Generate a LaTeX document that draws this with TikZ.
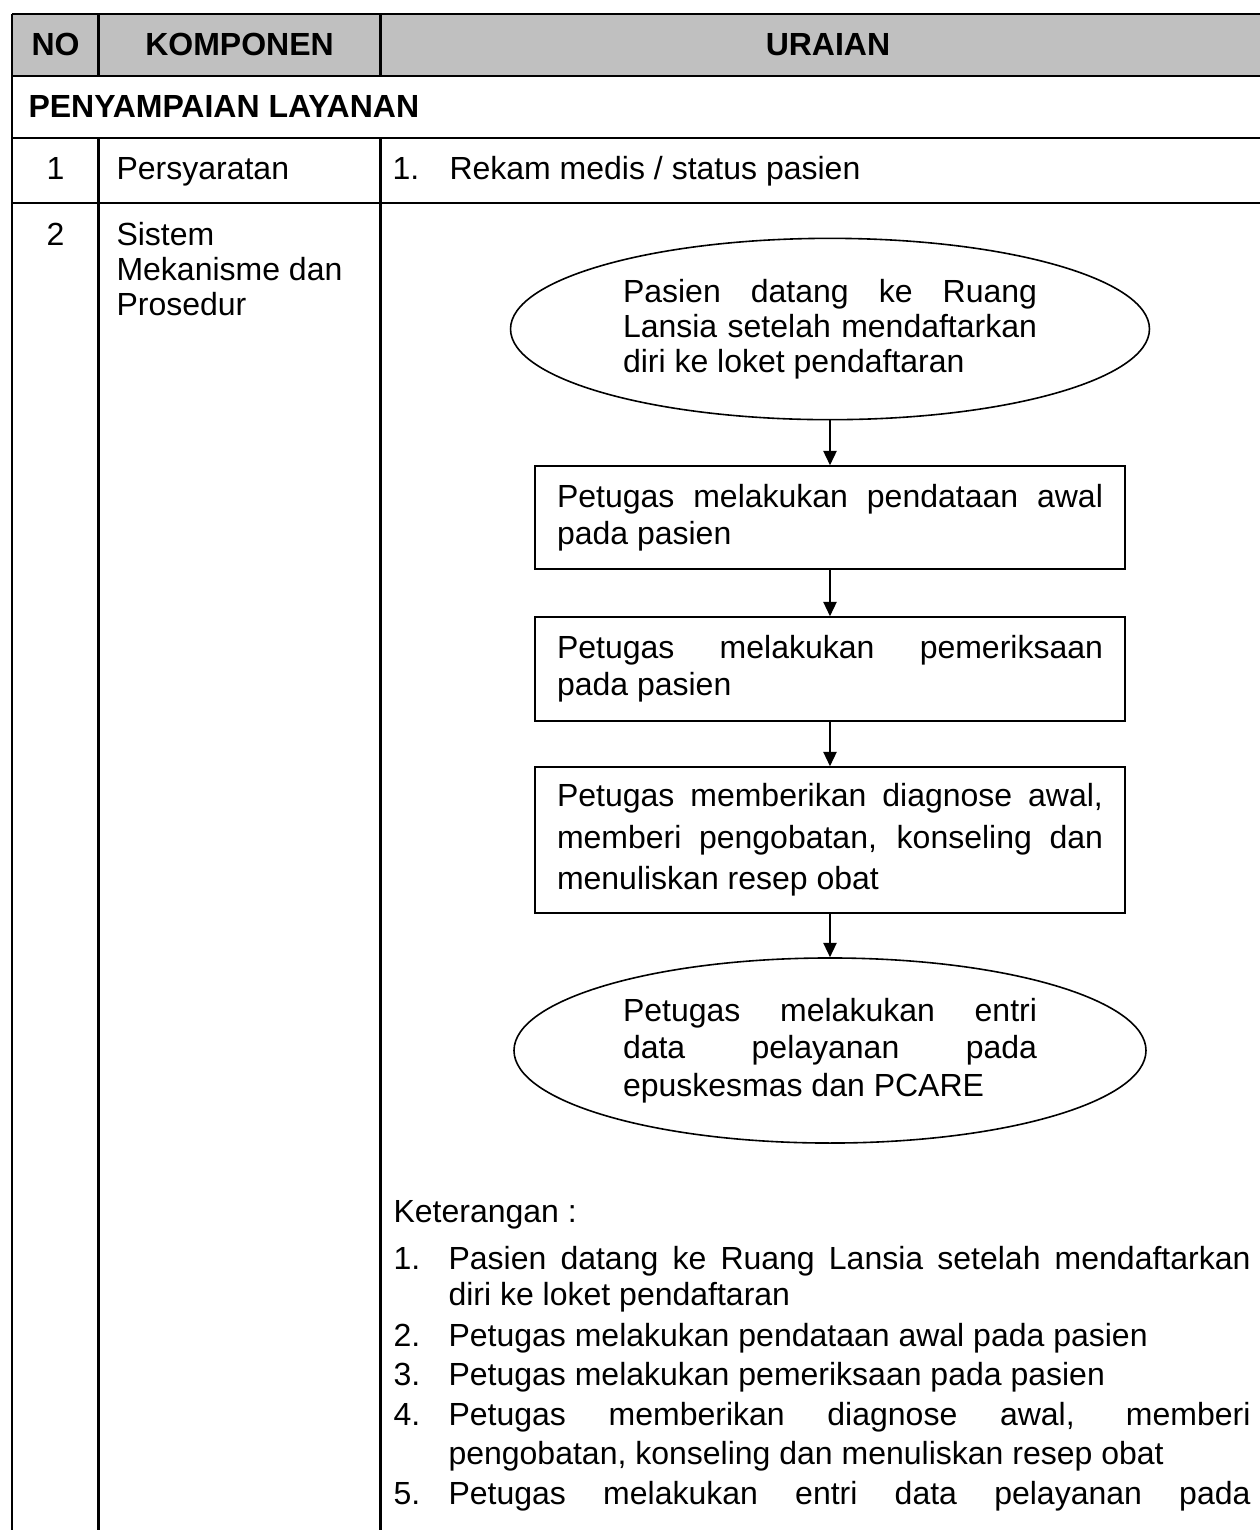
\documentclass[tikz,border=0pt]{standalone}
\usepackage{fontspec}
\setmainfont{Liberation Sans}
\usetikzlibrary{shapes.geometric,arrows.meta}
\definecolor{headgray}{RGB}{192,192,192}
% a line of text stretched to a given width (justified line)
\newcommand{\fitline}[2]{\makebox[#1][s]{#2}}
\begin{document}
\begin{tikzpicture}[x=0.375pt,y=-0.375pt,
  grid/.style={line width=0.95pt},
  flow/.style={draw, line width=0.6pt, inner sep=0pt, font=\fontsize{12}{13.8}\selectfont},
  oval/.style={flow, ellipse},
  stepbox/.style={flow, rectangle},
  link/.style={line width=0.6pt, -{Triangle[length=5.4pt,width=5pt]}},
  txt/.style={anchor=base west, inner sep=0pt, font=\fontsize{12}{14}\selectfont},
  ctxt/.style={anchor=base, inner sep=0pt, font=\fontsize{12}{14}\selectfont},
  hdr/.style={anchor=base, inner sep=0pt, font=\fontsize{12}{14}\selectfont\bfseries},
]
\useasboundingbox (0,0) rectangle (1260,1530);

% table header band
\fill[headgray] (12,14) rectangle (1290,76);

% table rules
\draw[grid] (12,14) -- (1290,14);
\draw[grid] (12,76) -- (1290,76);
\draw[grid] (12,138) -- (1290,138);
\draw[grid] (12,203) -- (1290,203);
\draw[grid] (12,14) -- (12,1540);
\draw[grid] (98.5,14) -- (98.5,76);
\draw[grid] (98.5,138) -- (98.5,1540);
\draw[grid] (380.5,14) -- (380.5,76);
\draw[grid] (380.5,138) -- (380.5,1540);

% header
\node[hdr] (hno) at (55.5,55) {NO};
\node[hdr] (hkomp) at (239.5,55) {KOMPONEN};
\node[hdr] (hur) at (828,55) {URAIAN};

% section row
\node[txt, font=\fontsize{12}{14}\selectfont\bfseries] (sect) at (28,117) {PENYAMPAIAN LAYANAN};

% row 1
\node[ctxt] (n1) at (55.5,179) {1};
\node[txt] (k1) at (116,179) {Persyaratan};
\node[txt] (u1n) at (392,179) {1.};
\node[txt] (u1) at (449,179) {Rekam medis / status pasien};

% row 2
\node[ctxt] (n2) at (55.5,245) {2};
\node[txt] (k2a) at (116,245) {Sistem};
\node[txt] (k2b) at (116,280) {Mekanisme dan};
\node[txt] (k2c) at (116,315.5) {Prosedur};

% flowchart
\node[oval, minimum width=239.6pt, minimum height=68pt,
      font=\fontsize{12}{13.2}\selectfont] (e1) at (830,329)
  {\parbox{155.25pt}{\fitline{155.25pt}{Pasien datang ke Ruang}\\
   \fitline{155.25pt}{Lansia setelah mendaftarkan}\\
   diri ke loket pendaftaran}};
\node[stepbox, minimum width=221.25pt, minimum height=38.6pt] (b1) at (830,517.5)
  {\parbox{204.75pt}{\fitline{204.75pt}{Petugas melakukan pendataan awal}\\
   pada pasien}};
\node[stepbox, minimum width=221.25pt, minimum height=39pt] (b2) at (830,669)
  {\parbox{204.75pt}{\fitline{204.75pt}{Petugas melakukan pemeriksaan}\\
   pada pasien}};
\node[stepbox, minimum width=221.25pt, minimum height=54.75pt,
      font=\fontsize{12}{15.5}\selectfont] (b3) at (830,840)
  {\raisebox{-1.5pt}{\parbox{204.75pt}{\fitline{204.75pt}{Petugas memberikan diagnose awal,}\\
   \fitline{204.75pt}{memberi pengobatan, konseling dan}\\
   menuliskan resep obat}}};
\node[oval, minimum width=237pt, minimum height=69.4pt,
      font=\fontsize{12}{14}\selectfont] (e2) at (830,1050.5)
  {\raisebox{-1.3pt}{\parbox{155.25pt}{\fitline{155.25pt}{Petugas melakukan entri}\\
   \fitline{155.25pt}{data pelayanan pada}\\
   epuskesmas dan PCARE}}};

\draw[link] (e1.south) -- (b1.north);
\draw[link] (b1.south) -- (b2.north);
\draw[link] (b2.south) -- (b3.north);
\draw[link] (b3.south) -- (e2.north);

% notes under the flowchart
\node[txt] (ket) at (393,1222) {Keterangan :};
\node[txt] (l1n) at (393,1269) {1.};
\node[txt] (l1a) at (448,1269) {\fitline{300.75pt}{Pasien datang ke Ruang Lansia setelah mendaftarkan}};
\node[txt] (l1b) at (448,1305) {diri ke loket pendaftaran};
\node[txt] (l2n) at (393,1346) {2.};
\node[txt] (l2) at (448,1346) {Petugas melakukan pendataan awal pada pasien};
\node[txt] (l3n) at (393,1385) {3.};
\node[txt] (l3) at (448,1385) {Petugas melakukan pemeriksaan pada pasien};
\node[txt] (l4n) at (393,1425) {4.};
\node[txt] (l4a) at (448,1425) {\fitline{300.75pt}{Petugas memberikan diagnose awal, memberi}};
\node[txt] (l4b) at (448,1464) {pengobatan, konseling dan menuliskan resep obat};
\node[txt] (l5n) at (393,1504) {5.};
\node[txt] (l5) at (448,1504) {\fitline{300.75pt}{Petugas melakukan entri data pelayanan pada}};
\end{tikzpicture}
\end{document}
